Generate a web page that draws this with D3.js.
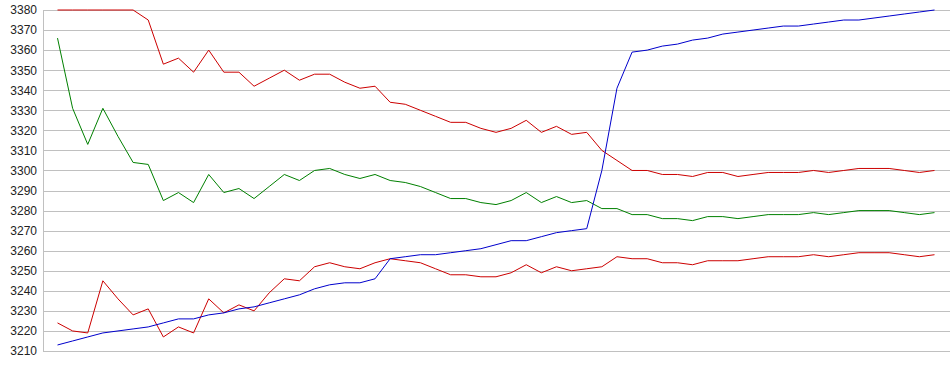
<!DOCTYPE html>
<html>
<head>
<meta charset="utf-8">
<script src="https://cdn.jsdelivr.net/npm/d3@7"></script>
<style>
  html, body { margin: 0; padding: 0; background: #fff; }
  svg { display: block; }
</style>
</head>
<body>
<svg id="chart" width="950" height="375"></svg>
<script>
const yTicks = [3210, 3220, 3230, 3240, 3250, 3260, 3270, 3280, 3290, 3300, 3310, 3320, 3330, 3340, 3350, 3360, 3370, 3380];

const redTop = [3380, 3380, 3380, 3380, 3380, 3380, 3375, 3353, 3356, 3349,
  3360, 3349, 3349, 3342, 3346, 3350, 3345, 3348, 3348, 3344,
  3341, 3342, 3334, 3333, 3330, 3327, 3324, 3324, 3321, 3319,
  3321, 3325, 3319, 3322, 3318, 3319, 3310, 3305, 3300, 3300,
  3298, 3298, 3297, 3299, 3299, 3297, 3298, 3299, 3299, 3299,
  3300, 3299, 3300, 3301, 3301, 3301, 3300, 3299, 3300];

const green = [3366, 3331, 3313, 3331, 3317, 3304, 3303, 3285, 3289, 3284,
  3298, 3289, 3291, 3286, 3292, 3298, 3295, 3300, 3301, 3298,
  3296, 3298, 3295, 3294, 3292, 3289, 3286, 3286, 3284, 3283,
  3285, 3289, 3284, 3287, 3284, 3285, 3281, 3281, 3278, 3278,
  3276, 3276, 3275, 3277, 3277, 3276, 3277, 3278, 3278, 3278,
  3279, 3278, 3279, 3280, 3280, 3280, 3279, 3278, 3279];

const redBottom = [3224, 3220, 3219, 3245, 3236, 3228, 3231, 3217, 3222, 3219,
  3236, 3229, 3233, 3230, 3239, 3246, 3245, 3252, 3254, 3252,
  3251, 3254, 3256, 3255, 3254, 3251, 3248, 3248, 3247, 3247,
  3249, 3253, 3249, 3252, 3250, 3251, 3252, 3257, 3256, 3256,
  3254, 3254, 3253, 3255, 3255, 3255, 3256, 3257, 3257, 3257,
  3258, 3257, 3258, 3259, 3259, 3259, 3258, 3257, 3258];

const blue = [3213, 3215, 3217, 3219, 3220, 3221, 3222, 3224, 3226, 3226,
  3228, 3229, 3231, 3232, 3234, 3236, 3238, 3241, 3243, 3244,
  3244, 3246, 3256, 3257, 3258, 3258, 3259, 3260, 3261, 3263,
  3265, 3265, 3267, 3269, 3270, 3271, 3300, 3341, 3359, 3360,
  3362, 3363, 3365, 3366, 3368, 3369, 3370, 3371, 3372, 3372,
  3373, 3374, 3375, 3375, 3376, 3377, 3378, 3379, 3380];

const series = [
  { name: "redTop", values: redTop, color: "#cc0000" },
  { name: "green", values: green, color: "#008000" },
  { name: "redBottom", values: redBottom, color: "#cc0000" },
  { name: "blue", values: blue, color: "#0000cc" }
];

const svg = d3.select("#chart");
const plotLeft = 43, plotRight = 950, plotTop = 10, plotBottom = 351;

const idx = d3.range(blue.length);
const x = d3.scalePoint().domain(idx).range([57.5, 934.5]);
const y = d3.scaleLinear().domain([3210, 3380]).range([plotBottom, plotTop]);

// Gridlines and labels via axis
const axis = d3.axisLeft(y)
  .tickValues(yTicks)
  .tickSize(-(plotRight - plotLeft))
  .tickPadding(6)
  .tickFormat(d3.format("d"));

const g = svg.append("g")
  .attr("transform", `translate(${plotLeft},0)`)
  .call(axis);

g.select(".domain").attr("stroke", "#c0c0c0").attr("shape-rendering", "crispEdges")
  .attr("d", `M0.5,${plotTop}V${plotBottom + 0.5}`);
g.selectAll(".tick line")
  .attr("stroke", "#c0c0c0")
  .attr("shape-rendering", "crispEdges");
g.selectAll(".tick text")
  .attr("font-family", "Liberation Sans, Arial, sans-serif")
  .attr("font-size", 12)
  .attr("fill", "#222");

const line = d3.line()
  .x((d, i) => x(i))
  .y(d => y(d));

svg.append("g").selectAll("path")
  .data(series)
  .join("path")
  .attr("fill", "none")
  .attr("stroke", d => d.color)
  .attr("stroke-width", 1)
  .attr("d", d => line(d.values));
</script>
</body>
</html>
